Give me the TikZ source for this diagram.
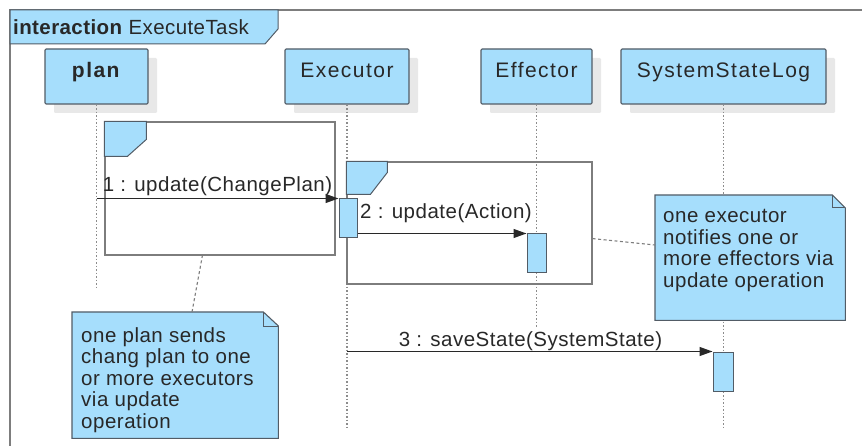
\documentclass[tikz,border=0pt]{standalone}
\usepackage{fontspec}
\setmainfont{Liberation Sans}
\newfontfamily\headfont[LetterSpace=7]{Liberation Sans}
\newfontfamily\labelfont[LetterSpace=2.5]{Liberation Sans}
\newfontfamily\titlefont[LetterSpace=2]{Liberation Sans}
\usetikzlibrary{arrows.meta,calc,shadows}
\definecolor{umlfill}{RGB}{166,222,252}
\definecolor{umledge}{RGB}{82,92,102}
\definecolor{framegray}{RGB}{125,125,125}
\definecolor{shadowgray}{RGB}{232,232,232}
\definecolor{lifegray}{RGB}{140,140,140}
\definecolor{inkgray}{RGB}{40,40,40}

\tikzset{
  headbox/.style={draw=umledge, fill=umlfill, line width=1.1pt, rounded corners=1.2pt,
    minimum width=#1, minimum height=55, inner sep=0pt, text=inkgray,
    text height=15pt, text depth=12pt,
    font=\headfont\fontsize{21}{24}\selectfont,
    general shadow={fill=shadowgray, shadow xshift=9pt, shadow yshift=-9pt}},
  lifeline/.style={draw=lifegray, line width=1.3pt, dash pattern=on 1.6pt off 1.9pt},
  fragbox/.style={draw=framegray, line width=1.2pt, inner sep=0pt},
  fragtag/.style={draw=umledge, fill=umlfill, line width=1pt},
  actbox/.style={draw=umledge, fill=umlfill, line width=1pt, minimum width=18, minimum height=39, inner sep=0pt},
  msg/.style={draw=inkgray, line width=1.1pt, -{Triangle[length=13pt,width=9pt]}},
  msglabel/.style={anchor=base, inner sep=0pt, text=inkgray, font=\labelfont\fontsize{20.5}{24}\selectfont},
  notearea/.style={inner sep=0pt},
  noteshape/.style={draw=umledge, fill=umlfill, line width=1.1pt},
  notetext/.style={anchor=north west, inner sep=0pt, align=left, text=inkgray,
    font=\labelfont\fontsize{20.5}{21.6}\selectfont},
  notelink/.style={draw=framegray, line width=1.1pt, dash pattern=on 3pt off 2.5pt},
}

\begin{document}
\begin{tikzpicture}[x=1pt,y=-1pt]
\useasboundingbox (0,0) rectangle (862,446);

% interaction frame and its name tag
\draw[draw=framegray, line width=1.5pt] (10,446) -- (10,10) -- (862,10);
\draw[fragtag] (10,10) -- (278,10) -- (278,29) -- (265,44) -- (10,44) -- cycle;
\node[anchor=base west, inner sep=0pt, text=inkgray, font=\titlefont\fontsize{20.5}{24}\selectfont]
  (title) at (13,34.5) {\textbf{interaction} ExecuteTask};

% lifeline heads
\node[headbox=103] (plan) at (96.5,76.5) {\textbf{plan}};
\node[headbox=124] (exec) at (347,76.5) {Executor};
\node[headbox=111] (eff)  at (536.5,76.5) {Effector};
\node[headbox=205] (ssl)  at (723.5,76.5) {SystemStateLog};

% lifelines
\coordinate (planEnd) at (96.5,287);
\coordinate (execEnd) at (347,428);
\coordinate (effEnd)  at (536.5,327);
\coordinate (sslEnd)  at (723.5,428);
\draw[lifeline] (plan.south) -- (planEnd);
\draw[lifeline] (exec.south) -- (execEnd);
\draw[lifeline] (eff.south)  -- (effEnd);
\draw[lifeline] (ssl.south)  -- (sslEnd);

% combined fragments
\node[fragbox, minimum width=230, minimum height=133] (f1) at (220,188.5) {};
\draw[fragtag] (f1.north west) -- ++(42,0) -- ++(0,18) -- ++(-19,17) -- ++(-23,0) -- cycle;
\node[fragbox, minimum width=245, minimum height=122] (f2) at (469.5,223) {};
\draw[fragtag] (f2.north west) -- ++(41,0) -- ++(0,11) -- ++(-17,22) -- ++(-24,0) -- cycle;

% activations
\node[actbox] (act1) at (348,218.5) {};
\node[actbox, minimum width=19] (act2) at (536.5,253.5) {};
\node[actbox, minimum width=20] (act3) at (723,371.5) {};

% messages
\draw[msg] (plan.south |- act1.north) -- (act1.north west);
\node[msglabel] (l1) at (217.5,192) {1 : update(ChangePlan)};
\draw[msg] (act1.east |- act2.north) -- (act2.north west);
\node[msglabel] (l2) at (446,218.5) {2 : update(Action)};
\draw[msg] (exec.south |- act3.north) -- (act3.north west);
\node[msglabel] (l3) at (530.5,346.5) {3 : saveState(SystemState)};

% notes
\node[notearea, minimum width=206, minimum height=126, anchor=north west] (n1) at (72,312) {};
\draw[noteshape] (n1.north west) -- ($(n1.north east)+(-15,0)$) -- ($(n1.north east)+(0,14)$)
  -- (n1.south east) -- (n1.south west) -- cycle;
\draw[draw=umledge, line width=1pt] ($(n1.north east)+(-15,0)$) -- ($(n1.north east)+(-15,14)$) -- ($(n1.north east)+(0,14)$);
\node[notetext] (t1) at (81,327) {one plan sends\\chang plan to one\\or more executors\\via update\\operation};

\node[notearea, minimum width=190, minimum height=125, anchor=north west] (n2) at (655,195) {};
\draw[noteshape] (n2.north west) -- ($(n2.north east)+(-13,0)$) -- ($(n2.north east)+(0,13)$)
  -- (n2.south east) -- (n2.south west) -- cycle;
\draw[draw=umledge, line width=1pt] ($(n2.north east)+(-13,0)$) -- ($(n2.north east)+(-13,13)$) -- ($(n2.north east)+(0,13)$);
\node[notetext] (t2) at (663,209) {one executor\\notifies one or\\more effectors via\\update operation};

% note attachments
\draw[notelink] ($(n1.north west)+(120,0)$) -- ($(f1.south west)+(98,0)$);
\draw[notelink] ($(f2.south east)+(0,-46)$) -- ($(n2.north west)+(0,50)$);
\end{tikzpicture}
\end{document}
